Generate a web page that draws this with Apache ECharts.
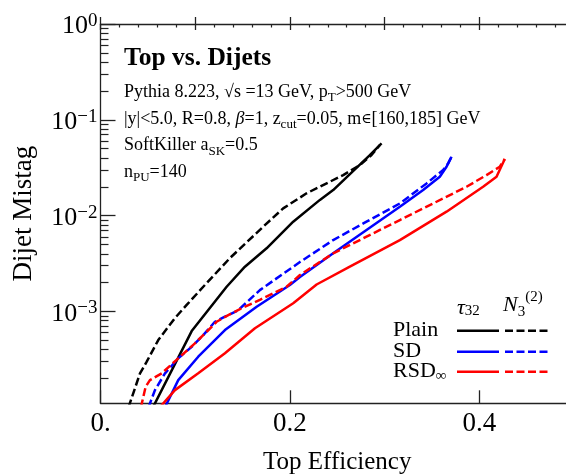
<!DOCTYPE html>
<html>
<head>
<meta charset="utf-8">
<script src="https://cdn.jsdelivr.net/npm/echarts@6/dist/echarts.min.js"></script>
<style>
html,body{margin:0;padding:0;background:#fff;}
#chart{width:566px;height:474px;}
</style>
</head>
<body>
<div id="chart"></div>
<script>
// ---- data (x = top efficiency, y = dijet mistag) ----
const plainTau = [[0.0554,1.0e-4],[0.0963,6.24e-4],[0.1332,1.81e-3],[0.1525,2.93e-3],[0.1754,4.56e-3],[0.2035,8.64e-3],[0.2317,1.46e-2],[0.2457,1.85e-2],[0.2844,4.29e-2],[0.2968,5.69e-2]];
const plainN3 = [[0.0296,1.0e-4],[0.0417,2.26e-4],[0.0488,2.99e-4],[0.0610,5.03e-4],[0.0786,8.53e-4],[0.0910,1.17e-3],[0.1085,1.81e-3],[0.1367,3.61e-3],[0.1718,7.66e-3],[0.1929,1.19e-2],[0.2176,1.71e-2],[0.2563,2.65e-2],[0.2739,3.37e-2],[0.2862,4.29e-2],[0.2950,5.46e-2]];
const sdTau = [[0.0681,1.0e-4],[0.0821,1.92e-4],[0.1032,3.37e-4],[0.1314,6.40e-4],[0.1649,1.12e-3],[0.2000,1.89e-3],[0.2106,2.29e-3],[0.2457,4.04e-3],[0.2809,7.08e-3],[0.3161,1.24e-2],[0.3407,1.85e-2],[0.3583,2.55e-2],[0.3654,3.24e-2],[0.3707,4.12e-2]];
const sdN3 = [[0.0507,1.0e-4],[0.0575,1.51e-4],[0.0681,2.26e-4],[0.0821,3.24e-4],[0.0963,4.28e-4],[0.1085,5.67e-4],[0.1208,7.80e-4],[0.1314,8.81e-4],[0.1454,1.03e-3],[0.1683,1.67e-3],[0.2106,3.28e-3],[0.2457,5.56e-3],[0.2809,8.64e-3],[0.3161,1.34e-2],[0.3443,2.17e-2],[0.3618,2.99e-2],[0.3671,3.51e-2],[0.3707,4.12e-2]];
const rsdTau = [[0.0627,1.0e-4],[0.0786,1.51e-4],[0.1032,2.26e-4],[0.1314,3.66e-4],[0.1631,6.67e-4],[0.2035,1.22e-3],[0.2282,1.91e-3],[0.2633,2.93e-3],[0.3161,5.56e-3],[0.3654,1.10e-2],[0.4040,2.00e-2],[0.4182,2.55e-2],[0.4269,3.90e-2]];
const rsdN3 = [[0.0427,1.0e-4],[0.0477,1.64e-4],[0.0522,1.92e-4],[0.0646,2.26e-4],[0.0821,3.24e-4],[0.0997,4.65e-4],[0.1121,6.14e-4],[0.1226,7.80e-4],[0.1349,9.17e-4],[0.1490,1.08e-3],[0.1683,1.32e-3],[0.1965,1.81e-3],[0.2106,2.40e-3],[0.2457,4.04e-3],[0.2809,6.03e-3],[0.3161,9.00e-3],[0.3512,1.34e-2],[0.3865,2.00e-2],[0.4076,2.65e-2],[0.4216,3.24e-2],[0.4269,3.90e-2]];

// axis ranges / tick labels
const xRange = [0, 0.5];
const yRange = [1.1e-4, 1];
const yMajorExps = [-3, -2, -1, 0];
const legendRows = ['Plain', 'SD', 'RSD'];

// ---- build ----
const FF = '"Liberation Serif", "Times New Roman", serif';
const AX = '#222';
const toLog = arr => arr.map(p => [p[0], Math.log10(p[1])]);
const yMinLog = Math.log10(yRange[0]);
const yMaxLog = Math.log10(yRange[1]);
const yMinor = [];
for (let n = -4; n < 0; n++) {
  for (let k = 2; k <= 9; k++) {
    const v = n + Math.log10(k);
    if (v > yMinLog && v < yMaxLog) yMinor.push(v);
  }
}
const DASH = [8, 3.5];
function mk(data, color, dashed) {
  return {
    type: 'line', xAxisIndex: 0, yAxisIndex: 0, data: toLog(data),
    showSymbol: false, symbol: 'none', silent: true, clip: true,
    lineStyle: { color: color, width: 2.5, type: dashed ? DASH : 'solid' }
  };
}

const chart = echarts.init(document.getElementById('chart'), null, { renderer: 'canvas' });

const subTok = { fontSize: 13, fontFamily: FF, fill: '#000', lineHeight: 14, verticalAlign: 'bottom' };

function infoLine(text, y) {
  return {
    type: 'text', left: 124, top: y - 12, z: 10,
    style: {
      text: text, x: 0, y: 0, fill: '#000', fontSize: 18, fontFamily: FF,
      lineHeight: 24, verticalAlign: 'top',
      rich: {
        sub: subTok,
        it: { fontSize: 18, fontFamily: FF, fontStyle: 'italic', fill: '#000', lineHeight: 24 },
        el: { fontSize: 14, fontFamily: '"DejaVu Serif", serif', fill: '#000', lineHeight: 24 }
      }
    }
  };
}

const legendY = [330.7, 351.7, 371.7];
const legendColors = ['#000', '#0000ff', '#ff0000'];
const graphics = [
  { type: 'text', left: 124, top: 45, z: 10,
    style: { text: 'Top vs. Dijets', fill: '#000', fontSize: 25.5, fontWeight: 'bold', fontFamily: FF } },
  infoLine('Pythia 8.223, √s =13 GeV, p{sub|T}>500 GeV', 92),
  infoLine('|y|<5.0, R=0.8, {it|β}=1, z{sub|cut}=0.05, m{el|∈}[160,185] GeV', 119),
  infoLine('SoftKiller a{sub|SK}=0.5', 145.6),
  infoLine('n{sub|PU}=140', 172.2)
];
// legend headers
graphics.push({
  type: 'text', left: 457, top: 297, z: 10,
  style: { text: '{i|τ}{s|32}', fill: '#000', fontFamily: FF, fontSize: 22,
    rich: { i: { fontSize: 22, fontStyle: 'italic', fontFamily: FF, fill: '#000', lineHeight: 22 },
            s: { fontSize: 15, fontFamily: FF, fill: '#000', lineHeight: 12, verticalAlign: 'bottom' } } }
});
graphics.push({
  type: 'text', left: 503, top: 290, z: 10,
  style: { text: '{i|N}{s|3}{p|(2)}', fill: '#000', fontFamily: FF, fontSize: 22,
    rich: { i: { fontSize: 22, fontStyle: 'italic', fontFamily: FF, fill: '#000', lineHeight: 30 },
            s: { fontSize: 15, fontFamily: FF, fill: '#000', lineHeight: 12, verticalAlign: 'bottom' },
            p: { fontSize: 15, fontFamily: FF, fill: '#000', lineHeight: 15, verticalAlign: 'top' } } }
});
legendRows.forEach((name, i) => {
  const label = i === 2 ? 'RSD{s|∞}' : name;
  graphics.push({
    type: 'text', left: 393, top: legendY[i] - 12, z: 10,
    style: { text: label, fill: '#000', fontFamily: FF, fontSize: 22, lineHeight: 24,
      rich: { s: { fontSize: 15, fontFamily: FF, fill: '#000', lineHeight: 12, verticalAlign: 'bottom' } } }
  });
  graphics.push({ type: 'line', z: 10, shape: { x1: 457, y1: legendY[i], x2: 499, y2: legendY[i] },
    style: { stroke: legendColors[i], lineWidth: 2.6 } });
  graphics.push({ type: 'line', z: 10, shape: { x1: 505, y1: legendY[i], x2: 548, y2: legendY[i] },
    style: { stroke: legendColors[i], lineWidth: 2.6, lineDash: DASH } });
});

const axLine = { show: true, onZero: false, lineStyle: { color: AX, width: 1.3 } };
const noLine = { show: false };

const option = {
  animation: false,
  backgroundColor: '#fff',
  grid: { left: 100.5, right: -8, top: 24, bottom: 70.7, containLabel: false, outerBoundsMode: 'none' },
  xAxis: [
    { type: 'value', min: xRange[0], max: xRange[1], interval: 0.2, position: 'bottom',
      axisLine: axLine,
      axisTick: { inside: true, length: 13, lineStyle: { color: AX, width: 1.3 } },
      axisLabel: { showMaxLabel: false, margin: 7, fontSize: 27, fontFamily: FF, color: '#000',
        formatter: v => v === 0 ? '0.' : String(v) },
      splitLine: { show: false },
      name: 'Top Efficiency', nameLocation: 'middle', nameGap: 47,
      nameTextStyle: { fontSize: 25, fontFamily: FF, color: '#000' } },
    { type: 'value', min: xRange[0], max: xRange[1], interval: 0.1, position: 'bottom',
      axisLine: noLine,
      axisTick: { inside: true, length: 7, lineStyle: { color: AX, width: 1.3 } },
      axisLabel: { show: false }, splitLine: { show: false } },
    { type: 'value', min: xRange[0], max: xRange[1], interval: 0.1, position: 'top',
      axisLine: axLine,
      axisTick: { inside: true, length: 6, lineStyle: { color: AX, width: 1.3 } },
      minorTick: { show: true, splitNumber: 5, length: 3.5, lineStyle: { color: AX, width: 1.2 } },
      axisLabel: { show: false }, splitLine: { show: false }, minorSplitLine: { show: false } }
  ],
  yAxis: [
    { type: 'value', min: yMinLog, max: yMaxLog, position: 'left',
      axisLine: axLine,
      axisTick: { inside: true, length: 15, customValues: yMajorExps, lineStyle: { color: AX, width: 1.3 } },
      axisLabel: { customValues: yMajorExps, margin: 3, color: '#000', fontFamily: FF, fontSize: 26,
        padding: [5, 0, 0, 0],
        formatter: v => '{b|10}{s|' + (v === 0 ? '0' : '\u2212' + Math.abs(v)) + '}',
        rich: {
          b: { fontSize: 26, fontFamily: FF, color: '#000', lineHeight: 30 },
          s: { fontSize: 19, fontFamily: FF, color: '#000', lineHeight: 25, verticalAlign: 'top' }
        } },
      splitLine: { show: false },
      name: 'Dijet Mistag', nameLocation: 'middle', nameGap: 63, nameRotate: 90,
      nameTextStyle: { fontSize: 27, fontFamily: FF, color: '#000' } },
    { type: 'value', min: yMinLog, max: yMaxLog, position: 'left',
      axisLine: noLine,
      axisTick: { inside: true, length: 8, customValues: yMinor, lineStyle: { color: AX, width: 1.2 } },
      axisLabel: { show: false }, splitLine: { show: false } }
  ],
  series: [
    mk(plainTau, '#000', false),
    mk(plainN3, '#000', true),
    mk(sdTau, '#0000ff', false),
    mk(sdN3, '#0000ff', true),
    mk(rsdTau, '#ff0000', false),
    mk(rsdN3, '#ff0000', true)
  ],
  graphic: graphics
};
chart.setOption(option);
</script>
</body>
</html>
